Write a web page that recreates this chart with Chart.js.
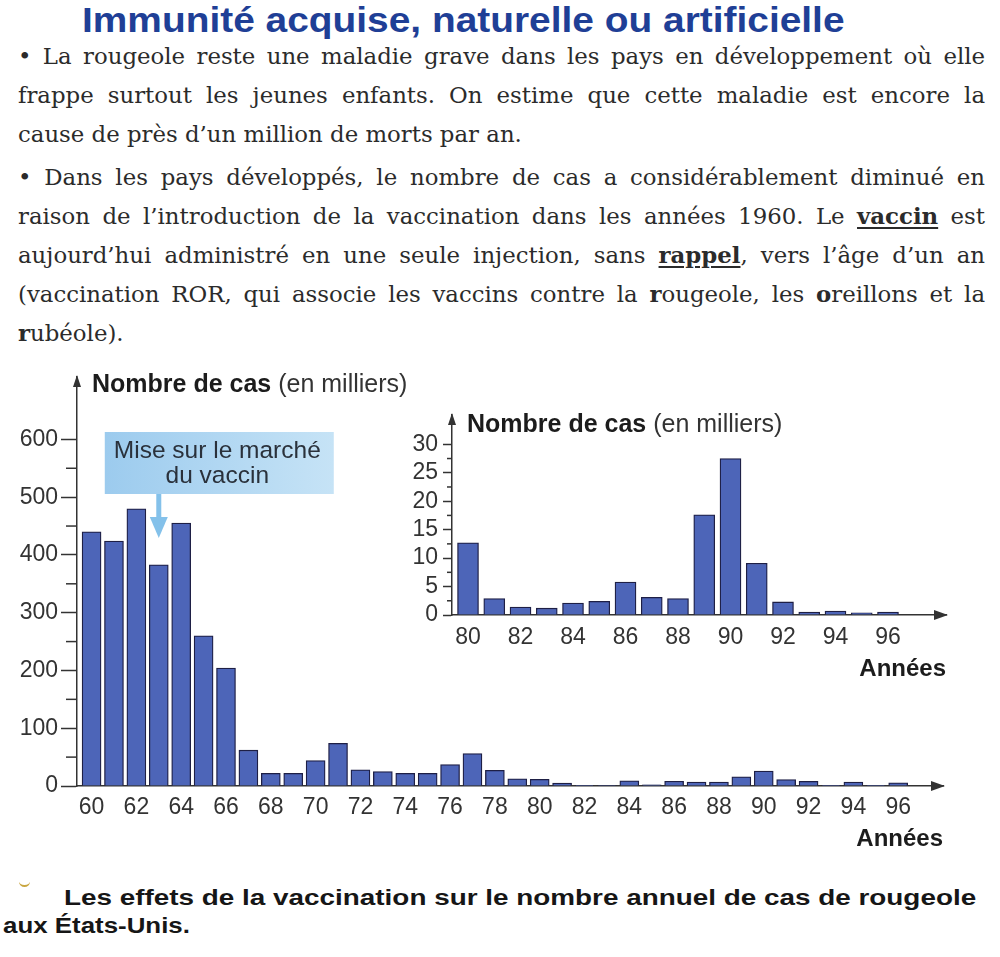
<!DOCTYPE html>
<html><head><meta charset="utf-8">
<script src="https://cdn.jsdelivr.net/npm/chart.js@4.4.1/dist/chart.umd.min.js"></script>
<style>
html,body{margin:0;padding:0;background:#fff;}
body{width:1000px;height:957px;position:relative;overflow:hidden;}
#title{position:absolute;left:82px;top:0;font:bold 35px "Liberation Sans",Arial,sans-serif;line-height:40px;color:#1f3f96;white-space:nowrap;transform-origin:0 0;}
.para{position:absolute;left:18px;width:967px;font-family:"DejaVu Serif","Liberation Serif",serif;font-size:23px;color:#2b2b2b;line-height:39px;}
.ln{white-space:nowrap;text-align:justify;text-align-last:justify;}
.ln.last{text-align:left;text-align-last:left;}
.para u{text-decoration-thickness:2px;text-underline-offset:3px;}
.cap{position:absolute;font:bold 22px "Liberation Sans",Arial,sans-serif;line-height:28px;color:#161616;white-space:nowrap;transform-origin:0 0;}
#mark{position:absolute;left:19px;top:880px;width:11px;height:5px;border-bottom:2px solid #c9a640;border-radius:0 0 6px 6px;}
#mainBox{position:absolute;left:0;top:360px;width:1000px;height:500px;}
#insetBox{position:absolute;left:380px;top:395px;width:620px;height:295px;}
</style></head>
<body>
<div id="title">Immunité acquise, naturelle ou artificielle</div>
<div class="para" id="p1" style="top:37px">
<div class="ln">• La rougeole reste une maladie grave dans les pays en développement où elle</div>
<div class="ln">frappe surtout les jeunes enfants. On estime que cette maladie est encore la</div>
<div class="ln last">cause de près d’un million de morts par an.</div>
</div>
<div class="para" id="p2" style="top:158px">
<div class="ln">• Dans les pays développés, le nombre de cas a considérablement diminué en</div>
<div class="ln">raison de l’introduction de la vaccination dans les années 1960. Le <b><u>vaccin</u></b> est</div>
<div class="ln">aujourd’hui administré en une seule injection, sans <b><u>rappel</u></b>, vers l’âge d’un an</div>
<div class="ln">(vaccination ROR, qui associe les vaccins contre la <b>r</b>ougeole, les <b>o</b>reillons et la</div>
<div class="ln last"><b>r</b>ubéole).</div>
</div>
<div id="mainBox"><canvas id="mainChart" width="1000" height="500"></canvas></div>
<div id="insetBox"><canvas id="insetChart" width="620" height="295"></canvas></div>
<div id="mark"></div>
<div class="cap" id="cap1" style="left:64px;top:884px">Les effets de la vaccination sur le nombre annuel de cas de rougeole</div>
<div class="cap" id="cap2" style="left:3px;top:912px">aux États-Unis.</div>
<script>
// ---------- data ----------
const mainYears = [60,61,62,63,64,65,66,67,68,69,70,71,72,73,74,75,76,77,78,79,80,81,82,83,84,85,86,87,88,89,90,91,92,93,94,95,96];
const mainCases = [440,424,480,383,455,260,204,62,22,22,44,74,28,25,22,22,37,56,27,12.5,11.6,4.9,1.2,1.0,9,2.2,8.3,6.8,7,16,26,11,8,0.3,7,0.2,5.4];
const mainXTicks = [60,62,64,66,68,70,72,74,76,78,80,82,84,86,88,90,92,94,96];
const mainYTicks = [0,100,200,300,400,500,600];
const mainYMinor = [50,150,250,350,450,550];

const insetYears = [80,81,82,83,84,85,86,87,88,89,90,91,92,93,94,95,96];
const insetCases = [12.7,2.9,1.4,1.2,2.1,2.4,5.8,3.1,2.9,17.6,27.5,9.1,2.3,0.5,0.7,0.4,0.5];
const insetXTicks = [80,82,84,86,88,90,92,94,96];
const insetYTicks = [0,5,10,15,20,25,30];
const insetYMinor = [2.5,7.5,12.5,17.5,22.5,27.5];

const yTitleBold = 'Nombre de cas';
const yTitleRest = ' (en milliers)';
const xTitle = 'Années';
const vaccineYear = 63;
const annotLines = ['Mise sur le marché', 'du vaccin'];

// ---------- text fitting ----------
function fitWidth(id, target){
  const el = document.getElementById(id);
  const w = el.scrollWidth;
  el.style.transform = 'scaleX(' + (target / w) + ')';
}
fitWidth('title', 763);
fitWidth('cap1', 912);
fitWidth('cap2', 187);

// paragraph font: largest size whose widest line still fits
(function(){
  const lines = document.querySelectorAll('.para .ln');
  let maxW = 0;
  lines.forEach(l => {
    const s = document.createElement('span');
    s.style.whiteSpace = 'nowrap';
    s.innerHTML = l.innerHTML;
    l.innerHTML = ''; l.appendChild(s);
    maxW = Math.max(maxW, s.getBoundingClientRect().width);
  });
  let size = 23 * 960 / maxW;
  size = Math.max(19, Math.min(26, size));
  document.querySelectorAll('.para').forEach(p => p.style.fontSize = size + 'px');
  lines.forEach(l => { l.innerHTML = l.firstChild.innerHTML; });
})();

// ---------- chart helpers ----------
const FONT = '"Liberation Sans", Arial, sans-serif';
const AX = '#333333';
const BAR = '#4d65b8';
const BARB = '#1e1f45';

function makeDeco(id, minor, minorLen, titleDx, titleDy, annot){
  return {
    id: id,
    afterDatasetsDraw(chart){
      if(!annot) return;
      const {ctx, chartArea:a, scales:{x}} = chart;
      const ax = x.getPixelForValue(vaccineYear);
      const bx = ax - 54, by = a.top + 55, bw = 229, bh = 62;
      ctx.save();
      const g = ctx.createLinearGradient(bx, 0, bx + bw, 0);
      g.addColorStop(0, '#9ccbee');
      g.addColorStop(1, '#c6e3f6');
      ctx.fillStyle = g;
      ctx.fillRect(bx, by, bw, bh);
      ctx.fillStyle = '#2a313b';
      ctx.font = '24.5px ' + FONT;
      ctx.textAlign = 'center';
      ctx.textBaseline = 'middle';
      ctx.fillText(annotLines[0], bx + bw/2 - 2, by + 19);
      ctx.fillText(annotLines[1], bx + bw/2 - 2, by + 44);
      ctx.fillStyle = '#84c1ea';
      ctx.fillRect(ax - 2.5, by + bh, 5, 25);
      ctx.beginPath();
      ctx.moveTo(ax - 9, by + bh + 23);
      ctx.lineTo(ax + 9, by + bh + 23);
      ctx.lineTo(ax, by + bh + 44);
      ctx.closePath();
      ctx.fill();
      ctx.restore();
    },
    afterDraw(chart){
      const {ctx, chartArea:a, scales:{x, y}} = chart;
      ctx.save();
      ctx.strokeStyle = AX; ctx.fillStyle = AX; ctx.lineWidth = 1.5;
      minor.forEach(v => {
        const py = y.getPixelForValue(v);
        ctx.beginPath(); ctx.moveTo(a.left - minorLen, py); ctx.lineTo(a.left, py); ctx.stroke();
      });
      // y arrow
      ctx.beginPath();
      ctx.moveTo(a.left, a.top - 2);
      ctx.lineTo(a.left - 4, a.top + 10);
      ctx.lineTo(a.left + 4, a.top + 10);
      ctx.closePath(); ctx.fill();
      // x arrow
      const y0 = y.getPixelForValue(0);
      ctx.beginPath();
      ctx.moveTo(a.right + 2, y0);
      ctx.lineTo(a.right - 12, y0 - 5);
      ctx.lineTo(a.right - 12, y0 + 5);
      ctx.closePath(); ctx.fill();
      // y title
      ctx.textBaseline = 'middle';
      ctx.textAlign = 'left';
      ctx.fillStyle = '#1c1c1c';
      ctx.font = 'bold 25px ' + FONT;
      const tx = a.left + titleDx, ty = a.top + titleDy;
      ctx.fillText(yTitleBold, tx, ty);
      const w = ctx.measureText(yTitleBold).width;
      ctx.font = '25px ' + FONT;
      ctx.fillStyle = '#333';
      ctx.fillText(yTitleRest, tx + w, ty);
      ctx.restore();
    }
  };
}

function makeChart(canvasId, years, cases, opt){
  return new Chart(document.getElementById(canvasId), {
    type: 'bar',
    data: {
      datasets: [{
        data: years.map((yr, i) => ({x: yr, y: cases[i]})),
        backgroundColor: BAR,
        borderColor: BARB,
        borderWidth: 1.3,
        barThickness: opt.barW
      }]
    },
    options: {
      responsive: false,
      animation: false,
      events: [],
      layout: {padding: {top: opt.padTop, right: opt.padRight, left: 0, bottom: 0}},
      plugins: {legend: {display: false}, tooltip: {enabled: false}},
      scales: {
        x: {
          type: 'linear',
          offset: false,
          min: opt.xMin, max: opt.xMax,
          afterBuildTicks: s => { s.ticks = opt.xTicks.map(v => ({value: v})); },
          afterFit: s => { s.height = opt.xH; },
          ticks: {autoSkip: false, maxRotation: 0, padding: opt.xPad, color: AX,
                  font: {family: FONT, size: 23}, callback: v => String(v)},
          grid: {display: false, drawTicks: false, offset: false},
          border: {display: true, color: AX, width: 1.5},
          title: {display: true, text: xTitle, align: 'end', color: '#1c1c1c',
                  font: {family: FONT, size: 24, weight: 'bold'}, padding: {top: 0, bottom: 6}}
        },
        y: {
          min: 0, max: opt.yMax,
          afterBuildTicks: s => { s.ticks = opt.yTicks.map(v => ({value: v})); },
          afterFit: s => { s.width = opt.yW; },
          ticks: {padding: opt.yPad, color: AX, font: {family: FONT, size: 23}, callback: v => String(v)},
          grid: {display: true, drawOnChartArea: false, drawTicks: true, tickLength: opt.tickLen,
                 color: AX, tickColor: AX, tickWidth: 1.5},
          border: {display: true, color: AX, width: 1.5}
        }
      }
    },
    plugins: [makeDeco(canvasId + 'Deco', opt.minor, opt.minorLen, opt.titleDx, opt.titleDy, opt.annot)]
  });
}

makeChart('mainChart', mainYears, mainCases, {
  barW: 19, padTop: 17, padRight: 57, xMin: 59.35, xMax: 98.0, xTicks: mainXTicks, xH: 74, xPad: 8,
  yMax: 708, yTicks: mainYTicks, yW: 77, yPad: 3, tickLen: 16, minor: mainYMinor, minorLen: 11,
  titleDx: 15, titleDy: 8, annot: true
});

makeChart('insetChart', insetYears, insetCases, {
  barW: 21, padTop: 20, padRight: 54, xMin: 79.39, xMax: 98.21, xTicks: insetXTicks, xH: 75, xPad: 9,
  yMax: 35.15, yTicks: insetYTicks, yW: 72, yPad: 5, tickLen: 9, minor: insetYMinor, minorLen: 5,
  titleDx: 15, titleDy: 10, annot: false
});
</script>
</body></html>
